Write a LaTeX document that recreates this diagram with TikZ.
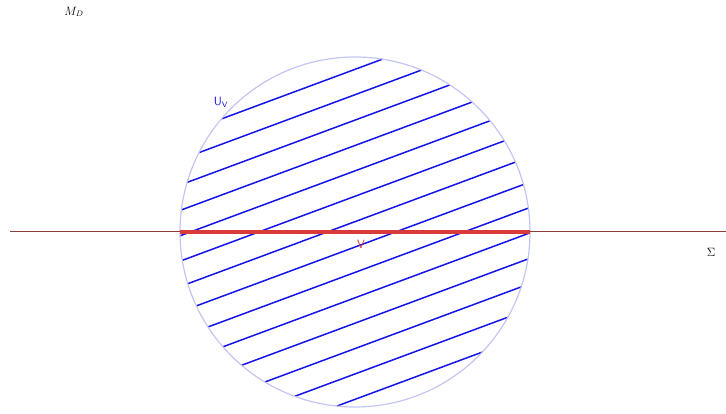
\documentclass[tikz,border=0pt]{standalone}
\usepackage{amsmath,amssymb}
\usepackage{xcolor}
\usepackage{tikz}
\usetikzlibrary{calc}
\definecolor{hblue}{HTML}{1414E6}
\definecolor{hring}{HTML}{C4C4F4}
\definecolor{hred}{HTML}{D93A3A}
\definecolor{hbrown}{HTML}{8B3E3C}

\begin{document}
\begin{tikzpicture}[x=1pt, y=1pt]
    \useasboundingbox (-355,-182) rectangle (371,232);
    \coordinate (c) at (0,0);
    % Hatching (parallel chords)
    \foreach \k in {0,...,13} {
        \pgfmathsetmacro{\d}{152.5-23.8*\k}
        \pgfmathsetmacro{\h}{175*sqrt(1-(\d/175)^2)}
        \draw[hblue, line width=1.5pt] ($(c)+(110.36:\d)+(200.36:\h)$) -- ($(c)+(110.36:\d)+(20.36:\h)$);
    }
    % Neighbourhood
    \draw[hring, line width=1.2pt] (c) circle[radius=175];
    % Hypersurface
    \coordinate (sl) at (-345,0);
    \coordinate (sr) at (371,0);
    \draw[hbrown, line width=1pt] (sl) -- (sr);
    \draw[hred, line width=3.5pt] ($(c)+(-175,0)$) -- ($(c)+(175,0)$);
    % Labels
    \node[font=\large] (md) at (-281,220) {$M_D$};
    \node[hblue, font=\large] (uv) at (-134,130) {$\mathsf{U}_{\mathsf{V}}$};
    \node[hred, font=\large\sffamily] (v) at (6,-12) {V};
    \node[font=\large] (sig) at (356,-20) {$\Sigma$};
\end{tikzpicture}
\end{document}
